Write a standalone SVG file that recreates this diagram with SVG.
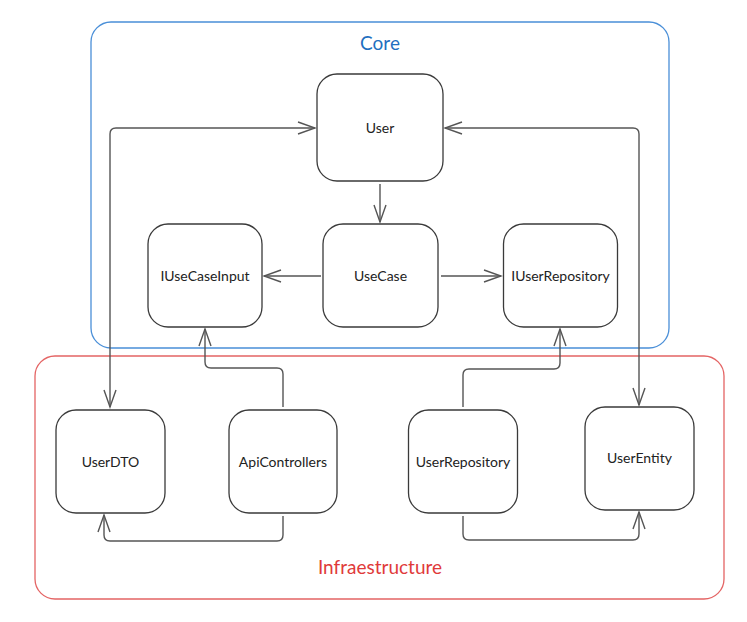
<svg xmlns="http://www.w3.org/2000/svg" width="747" height="622" viewBox="0 0 747 622">
<style>
.node rect{fill:#fff;stroke:#3a3a3a;stroke-width:1.3}
.node text{font-family:Lato,"Liberation Sans",sans-serif;font-size:14px;fill:#222;text-anchor:middle;dominant-baseline:central}
.conn path{fill:none;stroke:#555;stroke-width:1.4}
.title{font-family:Lato,"Liberation Sans",sans-serif;font-size:19px;text-anchor:middle}
</style>
<defs>
<marker id="arr" markerUnits="userSpaceOnUse" markerWidth="20" markerHeight="16" viewBox="-18 -8 20 16" refX="0" refY="0" orient="auto-start-reverse">
<path d="M-17,-6 L0,0 L-17,6" fill="none" stroke="#555" stroke-width="1.4"/>
</marker>
</defs>
<rect width="747" height="622" fill="#fff"/>
<g id="core">
<rect x="91" y="22" width="578" height="326" rx="20" fill="none" stroke="#4a8fd8" stroke-width="1.3"/>
<text class="title" x="380" y="50" fill="#1f6fc0">Core</text>
</g>
<g id="infra">
<rect x="35" y="356" width="689" height="243" rx="20" fill="none" stroke="#e46464" stroke-width="1.3"/>
<text class="title" x="380" y="574" fill="#e03a3a">Infraestructure</text>
</g>
<g id="n-user" class="node"><rect x="317" y="74" width="126" height="107" rx="20"/><text x="380" y="127.5">User</text></g>
<g id="n-usecase" class="node"><rect x="323" y="224" width="115" height="103" rx="20"/><text x="380.5" y="275.5">UseCase</text></g>
<g id="n-iusecaseinput" class="node"><rect x="148" y="224" width="114" height="103" rx="20"/><text x="205" y="275.5">IUseCaseInput</text></g>
<g id="n-iuserrepository" class="node"><rect x="503.5" y="224" width="114" height="103" rx="20"/><text x="560.5" y="275.5">IUserRepository</text></g>
<g id="n-userdto" class="node"><rect x="56" y="410" width="109" height="103" rx="20"/><text x="110.5" y="461.5">UserDTO</text></g>
<g id="n-apicontrollers" class="node"><rect x="229" y="410" width="108" height="103" rx="20"/><text x="283" y="461.5">ApiControllers</text></g>
<g id="n-userrepository" class="node"><rect x="408.5" y="410" width="109" height="103" rx="20"/><text x="463" y="461.5">UserRepository</text></g>
<g id="n-userentity" class="node"><rect x="585" y="407" width="109" height="103" rx="20"/><text x="639.5" y="457.5">UserEntity</text></g>
<g id="connectors" class="conn">
<path d="M110,407 L110,134 Q110,128 116,128 L315,128" marker-start="url(#arr)" marker-end="url(#arr)"/>
<path d="M445,128 L633,128 Q639,128 639,134 L639,405" marker-start="url(#arr)" marker-end="url(#arr)"/>
<path d="M380,184 L380,222" marker-end="url(#arr)"/>
<path d="M321,276 L264,276" marker-end="url(#arr)"/>
<path d="M441,276 L501,276" marker-end="url(#arr)"/>
<path d="M283,407 L283,374 Q283,368 277,368 L211,368 Q205,368 205,362 L205,329" marker-end="url(#arr)"/>
<path d="M463,407 L463,375 Q463,369 469,369 L554,369 Q560,369 560,363 L560,329" marker-end="url(#arr)"/>
<path d="M283,516 L283,535 Q283,541 277,541 L110,541 Q104,541 104,535 L104,515" marker-end="url(#arr)"/>
<path d="M463,516 L463,534 Q463,540 469,540 L633,540 Q639,540 639,534 L639,512" marker-end="url(#arr)"/>
</g>
</svg>
